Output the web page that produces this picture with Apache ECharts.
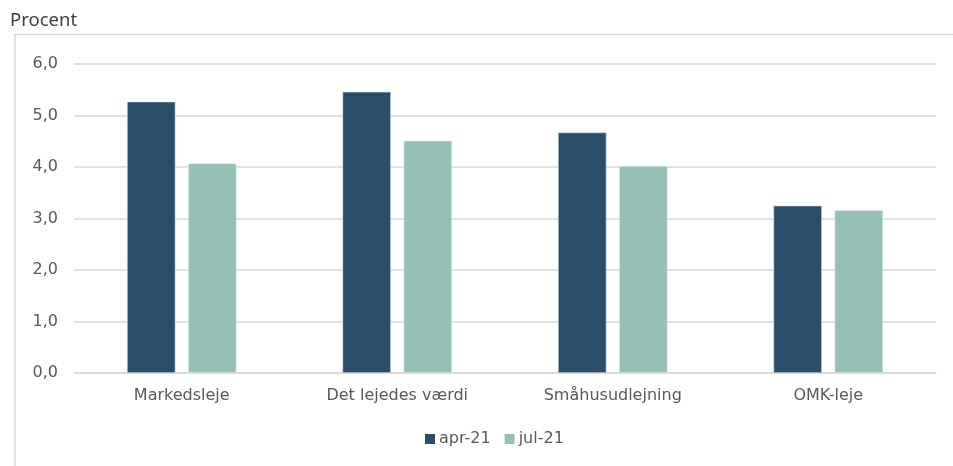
<!DOCTYPE html>
<html><head><meta charset="utf-8">
<script src="https://cdn.jsdelivr.net/npm/echarts@6/dist/echarts.min.js"></script>
<style>html,body{margin:0;padding:0;background:#fff}#c{width:953px;height:466px}</style>
</head><body><div id="c"></div>
<script>
var categories = ['Markedsleje', 'Det lejedes værdi', 'Småhusudlejning', 'OMK-leje'];
var seriesNames = ['apr-21', 'jul-21'];
var apr21 = [5.27, 5.46, 4.67, 3.25];
var jul21 = [4.07, 4.51, 4.02, 3.16];
var yTicks = { min: 0, max: 6, interval: 1 };

var chart = echarts.init(document.getElementById('c'), null, { renderer: 'canvas' });
var font = 'DejaVu Sans';
chart.setOption({
  animation: false,
  backgroundColor: '#fff',
  graphic: [
    { type: 'rect', shape: { x: 15, y: 34.5, width: 960, height: 460 }, style: { fill: 'none', stroke: '#d9d9d9', lineWidth: 1.5 }, z: -1 },
    { type: 'text', left: 10, top: 11, style: { text: 'Procent', font: '18.5px "Noto Sans"', fill: '#404040' } }
  ],
  grid: { left: 74, right: 17, top: 64, bottom: 93, containLabel: false },
  legend: {
    data: seriesNames, bottom: 14, left: 420, itemWidth: 10, itemHeight: 10, itemGap: 14,
    icon: 'rect', itemStyle: { borderWidth: 0 },
    textStyle: { fontFamily: font, fontSize: 16, color: '#595959', padding: [0,0,0,-1] }
  },
  xAxis: {
    type: 'category', data: categories,
    axisLine: { show: true, lineStyle: { color: '#d9d9d9', width: 1.5 } },
    axisTick: { show: false },
    axisLabel: { fontFamily: font, fontSize: 16, color: '#595959', margin: 15 }
  },
  yAxis: {
    type: 'value', min: yTicks.min, max: yTicks.max, interval: yTicks.interval,
    axisLine: { show: false }, axisTick: { show: false },
    splitLine: { lineStyle: { color: '#d9d9d9', width: 1.5 } },
    axisLabel: { fontFamily: font, fontSize: 16, color: '#595959', margin: 16,
      formatter: function (v) { return v.toFixed(1).replace('.', ','); } }
  },
  series: [
    { name: seriesNames[0], type: 'bar', data: apr21, barWidth: '22.5%', barGap: '26%',
      itemStyle: { color: '#2c4d67', borderColor: '#dfe6ec', borderWidth: 0.6 } },
    { name: seriesNames[1], type: 'bar', data: jul21, barWidth: '22.5%', barGap: '26%',
      itemStyle: { color: '#96c0b6', borderColor: '#e6efec', borderWidth: 0.6 } }
  ]
});
</script></body></html>
